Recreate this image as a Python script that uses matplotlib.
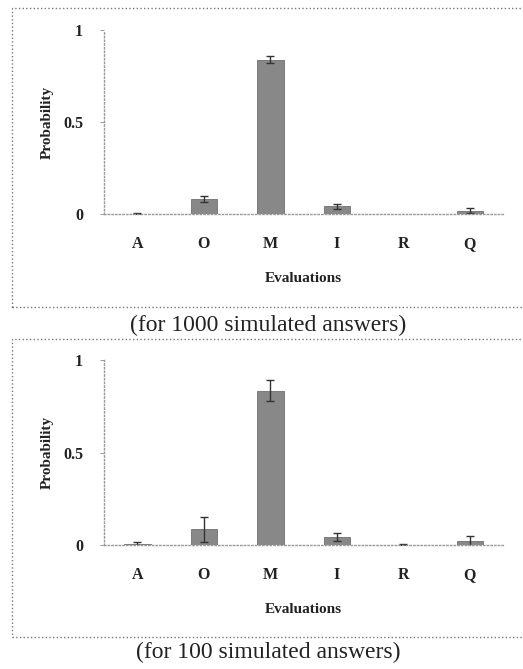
import numpy as np
import matplotlib
matplotlib.use("Agg")
import matplotlib.pyplot as plt
from matplotlib.patches import Rectangle

plt.rcParams['font.family'] = ['Liberation Serif', 'DejaVu Serif']

# データ
categories = ["A", "O", "M", "I", "R", "Q"]
prob_1000 = [0.003, 0.082, 0.840, 0.043, 0.0, 0.018]
err_1000 = [0.003, 0.015, 0.018, 0.013, 0.0, 0.013]
prob_100 = [0.004, 0.085, 0.834, 0.043, 0.003, 0.022]
err_100 = [0.014, 0.066, 0.055, 0.022, 0.003, 0.028]
captions = ["(for 1000 simulated answers)", "(for 100 simulated answers)"]

fig = plt.figure(figsize=(5.23, 6.69), dpi=100)

def draw_panel(rect, values, errs):
    ax = fig.add_axes(rect)
    x = np.arange(len(categories))
    v = np.array(values)
    e = np.array(errs)
    ax.bar(x, v, width=0.4, color="#888888", edgecolor="#707070", lw=0.6)
    m = e > 0  # 誤差0のところはバーなし
    ax.errorbar(x[m], v[m], yerr=e[m], fmt="none", ecolor="#333333",
                elinewidth=1.0, capthick=1.0, capsize=3)
    ax.set_xlim(-0.5, 5.5)
    ax.set_ylim(0, 1)
    ax.set_yticks([0, 0.5, 1])
    ax.set_yticklabels(["0", "0.5", "1"])
    ax.set_xticks(x)
    ax.set_xticklabels(categories)
    for lab in ax.get_xticklabels() + ax.get_yticklabels():
        lab.set_fontweight("bold")
        lab.set_fontsize(11.5)
        lab.set_color("#222222")
    ax.tick_params(axis="x", length=0, pad=16)
    ax.tick_params(axis="y", length=3, width=0.6, color="#888888", pad=12)
    for s in ["top", "right"]:
        ax.spines[s].set_visible(False)
    for s in ["left", "bottom"]:
        ax.spines[s].set_color("#999999")
        ax.spines[s].set_linestyle(":")
        ax.spines[s].set_linewidth(1.0)
    ax.set_xlabel("Evaluations", fontsize=11, fontweight="bold", color="#222222", labelpad=14)
    ax.set_ylabel("Probability", fontsize=11, fontweight="bold", color="#222222", labelpad=7)
    ax.patch.set_alpha(0)
    return ax

draw_panel([0.199, 0.680, 0.763, 0.275], prob_1000, err_1000)
draw_panel([0.199, 0.185, 0.763, 0.277], prob_100, err_100)

# 点線の枠
fig.patches.append(Rectangle((0.023, 0.541), 1.0, 0.447, transform=fig.transFigure,
                             fill=False, ls=":", lw=1.0, ec="#777777", zorder=-1))
fig.patches.append(Rectangle((0.023, 0.048), 1.0, 0.445, transform=fig.transFigure,
                             fill=False, ls=":", lw=1.0, ec="#777777", zorder=-1))

fig.text(0.513, 0.514, captions[0], ha="center", va="center", fontsize=17, color="#222222")
fig.text(0.513, 0.024, captions[1], ha="center", va="center", fontsize=17, color="#222222")

fig.savefig("out.png", dpi=100)
